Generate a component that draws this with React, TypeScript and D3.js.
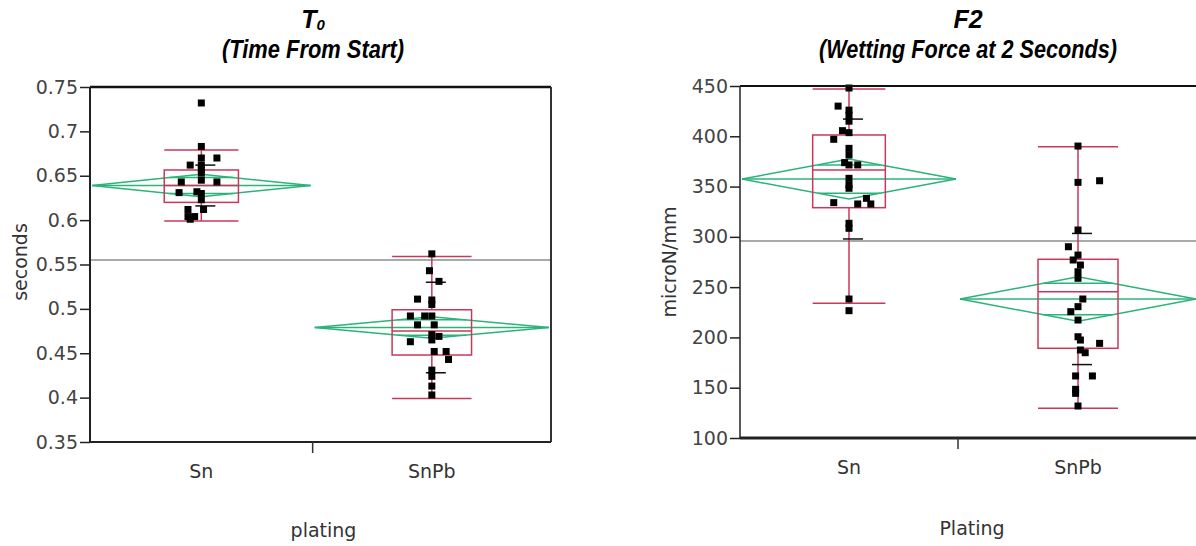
import React, { useEffect, useRef } from "react";
import * as d3 from "d3";

const plating = ["Sn", "SnPb"];

// T0 (time from start), seconds — points and their jitter (% of group band)
const t0Sn = [0.732, 0.683, 0.670, 0.670, 0.662, 0.662, 0.653, 0.645, 0.643, 0.643, 0.632, 0.631, 0.630, 0.623, 0.612, 0.612, 0.604, 0.604, 0.601, 0.657];
const t0SnJitter = [0, 0, 0, 7, -5, 0, 0, 0, -9, 7, -2, -10, 0, 0, 1, -6, -6, -3, -5, 0];
const t0SnPb = [0.562, 0.543, 0.531, 0.511, 0.510, 0.505, 0.492, 0.492, 0.492, 0.482, 0.482, 0.471, 0.469, 0.465, 0.463, 0.452, 0.452, 0.443, 0.431, 0.424, 0.413, 0.403];
const t0SnPbJitter = [0, -1, 3, -6, 0, 0, -9, -3, 0, -6, 1, 0, 3, 0, -9, 1, 6, 7, 0, 0, 0, 0];

// T0 summaries [Sn, SnPb]
const t0Mean = [0.639, 0.479];
const t0Ci = [0.0126, 0.0122];
const t0Sd = [0.023, 0.051];
const t0Q1 = [0.620, 0.448];
const t0Median = [0.639, 0.475];
const t0Q3 = [0.6565, 0.499];
const t0WhiskLo = [0.599, 0.399];
const t0WhiskHi = [0.679, 0.559];
const t0Grand = 0.555;
const t0Ticks = [0.35, 0.4, 0.45, 0.5, 0.55, 0.6, 0.65, 0.7, 0.75];

// F2 (wetting force at 2 s), microN/mm
const f2Sn = [448, 430, 426, 421, 415, 405.6, 403.6, 397, 388, 381.4, 373.8, 371.5, 371.5, 358.2, 351.6, 348.3, 334, 338.3, 332.7, 332.7, 313.5, 308.5, 238.2, 226.6];
const f2SnJitter = [0, -5, 0, 0, 0, -3, 0, -7, 0, 0, -2, 0, 4, 0, 0, 0, -7, 8, 4, 10, 0, 0, 0, 0];
const f2SnPb = [390.3, 355.8, 354.2, 306.8, 290.2, 281.9, 277, 272, 265.3, 258.8, 238.2, 230.6, 225.6, 217.3, 200.7, 197.4, 194.1, 187.5, 184.8, 161.7, 161.7, 148.4, 144.4, 131.8];
const f2SnPbJitter = [0, 9, 0, 0, -4, 0, -2, 1, 0, 0, 2, 0, -3, 0, 0, 1, 9, 1, 3, -1, 6, -1, -1, 0];

const f2Mean = [357.5, 238.2];
const f2Ci = [19.9, 22.2];
const f2Sd = [59.6, 65.2];
const f2Q1 = [329, 189.2];
const f2Median = [366.5, 245.5];
const f2Q3 = [401.3, 277.7];
const f2WhiskLo = [233.9, 129.5];
const f2WhiskHi = [447, 389.7];
const f2Grand = 296;
const f2Ticks = [100, 150, 200, 250, 300, 350, 400, 450];

const RED = "#c8385c";
const GREEN = "#2bb37a";
const AXIS_FONT = "'DejaVu Sans', Verdana, sans-serif";
const TITLE_FONT = "'Liberation Sans', Arial, sans-serif";

const charts = [
  {
    key: "t0",
    points: [t0Sn, t0SnPb],
    jitter: [t0SnJitter, t0SnPbJitter],
    mean: t0Mean, ci: t0Ci, sd: t0Sd, q1: t0Q1, median: t0Median, q3: t0Q3,
    lo: t0WhiskLo, hi: t0WhiskHi, grand: t0Grand, ticks: t0Ticks,
    domain: [0.35, 0.75],
    fmt: (d) => String(+d.toFixed(2)),
    x0: 90, x1: 551, y0: 87, y1: 442, split: 0.483,
    yLabel: "seconds", yLabelX: 27, yLabelY: 262,
    xLabel: "plating", xLabelY: 537, catY: 478,
    title: "T", sub: "0", subtitle: "(Time From Start)", titleX: 313, subW: 182,
    frame: { top: 2.5, left: 2, right: 2, bottom: 2 },
  },
  {
    key: "f2",
    points: [f2Sn, f2SnPb],
    jitter: [f2SnJitter, f2SnPbJitter],
    mean: f2Mean, ci: f2Ci, sd: f2Sd, q1: f2Q1, median: f2Median, q3: f2Q3,
    lo: f2WhiskLo, hi: f2WhiskHi, grand: f2Grand, ticks: f2Ticks,
    domain: [100, 450],
    fmt: (d) => String(d),
    x0: 740, x1: 1198, y0: 86, y1: 438, split: 0.476,
    yLabel: "microN/mm", yLabelX: 676, yLabelY: 262,
    xLabel: "Plating", xLabelY: 535, catY: 474,
    title: "F2", sub: "", subtitle: "(Wetting Force at 2 Seconds)", titleX: 968, subW: 298,
    frame: { top: 2, left: 1.5, right: 0, bottom: 3 },
  },
];

function Oneway({ c }) {
  const gRef = useRef(null);

  useEffect(() => {
    const g = d3.select(gRef.current);
    g.selectAll("*").remove();

    const y = d3.scaleLinear().domain(c.domain).range([c.y1, c.y0]);
    const sep = c.x0 + (c.x1 - c.x0) * c.split;
    const x = d3.scaleLinear().domain([0, 1, 2]).range([c.x0, sep, c.x1]);

    // grand mean
    g.append("line")
      .attr("x1", c.x0).attr("x2", c.x1)
      .attr("y1", y(c.grand)).attr("y2", y(c.grand))
      .attr("stroke", "#8c8c8c").attr("stroke-width", 1.5);

    plating.forEach((name, i) => {
      const xc = x(i + 0.5);
      const bw = x(i + 1) - x(i);
      const half = bw / 6;
      const grp = g.append("g").attr("class", "grp-" + name);

      // mean diamond
      const left = x(i) + 2;
      const right = x(i + 1) - 2;
      const m = c.mean[i];
      grp.append("path")
        .attr("d", d3.line()([
          [left, y(m)], [xc, y(m + c.ci[i])], [right, y(m)], [xc, y(m - c.ci[i])], [left, y(m)],
        ]))
        .attr("fill", "none").attr("stroke", GREEN).attr("stroke-width", 1.5);
      grp.append("line")
        .attr("x1", left).attr("x2", right).attr("y1", y(m)).attr("y2", y(m))
        .attr("stroke", GREEN).attr("stroke-width", 1.5);
      // overlap marks
      const f = 1 - Math.SQRT1_2;
      [1, -1].forEach((s) => {
        const yy = y(m + s * c.ci[i] * Math.SQRT1_2);
        grp.append("line")
          .attr("x1", xc - (xc - left) * f).attr("x2", xc + (right - xc) * f)
          .attr("y1", yy).attr("y2", yy)
          .attr("stroke", GREEN).attr("stroke-width", 1.5);
      });

      // outlier box
      grp.append("rect")
        .attr("x", xc - half).attr("width", half * 2)
        .attr("y", y(c.q3[i])).attr("height", y(c.q1[i]) - y(c.q3[i]))
        .attr("fill", "none").attr("stroke", RED).attr("stroke-width", 1.5);
      grp.append("line")
        .attr("x1", xc - half).attr("x2", xc + half)
        .attr("y1", y(c.median[i])).attr("y2", y(c.median[i]))
        .attr("stroke", RED).attr("stroke-width", 1.5);
      [[c.q3[i], c.hi[i]], [c.q1[i], c.lo[i]]].forEach(([a, b]) => {
        grp.append("line")
          .attr("x1", xc).attr("x2", xc).attr("y1", y(a)).attr("y2", y(b))
          .attr("stroke", RED).attr("stroke-width", 1.5);
        grp.append("line")
          .attr("x1", xc - half).attr("x2", xc + half).attr("y1", y(b)).attr("y2", y(b))
          .attr("stroke", RED).attr("stroke-width", 1.5);
      });

      // std dev lines
      [1, -1].forEach((s) => {
        const yy = y(m + s * c.sd[i]);
        grp.append("line")
          .attr("x1", xc - 6).attr("x2", xc + 14).attr("y1", yy).attr("y2", yy)
          .attr("stroke", "#111").attr("stroke-width", 1.5);
      });

      // points
      grp.selectAll("rect.pt")
        .data(c.points[i])
        .join("rect")
        .attr("class", "pt")
        .attr("x", (d, j) => x(i + 0.5 + c.jitter[i][j] / 100) - 3.5)
        .attr("y", (d) => y(d) - 3.5)
        .attr("width", 7).attr("height", 7)
        .attr("fill", "#000");

      // category label
      g.append("text")
        .attr("x", xc).attr("y", c.catY)
        .attr("text-anchor", "middle")
        .attr("font-family", AXIS_FONT).attr("font-size", 19)
        .attr("fill", "#333")
        .text(name);
    });

    // frame
    const fr = c.frame;
    const seg = (x1, y1, x2, y2, w, col) =>
      g.append("line").attr("x1", x1).attr("y1", y1).attr("x2", x2).attr("y2", y2)
        .attr("stroke", col).attr("stroke-width", w);
    seg(c.x0, c.y0, c.x1, c.y0, fr.top, "#111");
    if (fr.right) seg(c.x1, c.y0, c.x1, c.y1, fr.right, "#333");
    seg(c.x0, c.y1, c.x1, c.y1, fr.bottom, "#222");
    seg(c.x0, c.y0, c.x0, c.y1, fr.left, "#222");

    // separator tick
    seg(sep, c.y1, sep, c.y1 + 11, 1.5, "#333");

    // y axis
    const ax = g.append("g")
      .attr("transform", `translate(${c.x0},0)`)
      .call(d3.axisLeft(y).tickValues(c.ticks).tickSize(10).tickPadding(2).tickFormat(c.fmt));
    ax.select(".domain").remove();
    ax.selectAll(".tick line").attr("stroke", "#222").attr("stroke-width", 1.5);
    ax.selectAll(".tick text")
      .attr("font-family", AXIS_FONT).attr("font-size", 19).attr("fill", "#444");
    ax.attr("font-family", null).attr("font-size", null);
  }, [c]);

  return (
    <g>
      <text x={c.titleX} y={28} textAnchor="middle" fontFamily={TITLE_FONT}
        fontWeight="bold" fontStyle="italic" fontSize={25} fill="#000">
        {c.title}
        {c.sub ? <tspan fontSize={15} dy={2}>{c.sub}</tspan> : null}
      </text>
      <text x={c.titleX} y={58} textAnchor="middle" fontFamily={TITLE_FONT}
        fontWeight="bold" fontStyle="italic" fontSize={25} fill="#000"
        textLength={c.subW} lengthAdjust="spacingAndGlyphs">
        {c.subtitle}
      </text>
      <g ref={gRef} />
      <text transform={`translate(${c.yLabelX},${c.yLabelY}) rotate(-90)`}
        textAnchor="middle" fontFamily={AXIS_FONT} fontSize={19} fill="#333">
        {c.yLabel}
      </text>
      <text x={(c.x0 + c.x1) / 2 + 3} y={c.xLabelY} textAnchor="middle"
        fontFamily={AXIS_FONT} fontSize={19} fill="#333">
        {c.xLabel}
      </text>
    </g>
  );
}

export default function App() {
  return (
    <svg width={1196} height={546}
      style={{ position: "absolute", left: 0, top: 0, background: "#fff" }}>
      <rect width={1196} height={546} fill="#fff" />
      {charts.map((c) => <Oneway key={c.key} c={c} />)}
    </svg>
  );
}
